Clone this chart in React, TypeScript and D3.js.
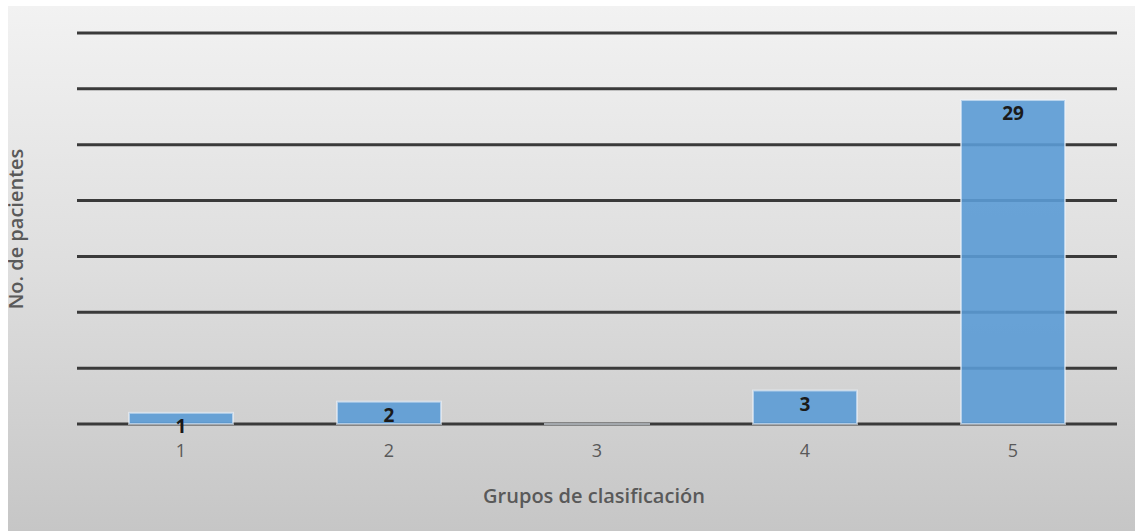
import React from "react";
import * as d3 from "d3";

const categories = ["1", "2", "3", "4", "5"];
const values = [1, 2, 0, 3, 29];
const yTicks = [0, 5, 10, 15, 20, 25, 30, 35];
const xTitle = "Grupos de clasificación";
const yTitle = "No. de pacientes";

export default function App() {
  const W = 1135;
  const H = 531;
  const x = d3.scaleBand<string>().domain(categories).range([77, 1117]).paddingInner(0.5).paddingOuter(0.25);
  const y = d3.scaleLinear().domain([0, 35]).range([424, 33]);
  const font = "'Open Sans', 'Liberation Sans', sans-serif";
  return (
    <svg width={W} height={H} style={{ position: "absolute", left: 0, top: 0, background: "#fff" }}>
      <defs>
        <linearGradient id="bg" x1="0" y1="0" x2="0" y2="1">
          <stop offset="0" stopColor="#f2f2f2" />
          <stop offset="0.5" stopColor="#dedede" />
          <stop offset="1" stopColor="#c6c6c6" />
        </linearGradient>
        <clipPath id="clip">
          <rect x={8} y={6} width={W - 8} height={H - 6} />
        </clipPath>
      </defs>
      <g clipPath="url(#clip)">
        <rect x={8} y={6} width={W - 8} height={H - 6} fill="url(#bg)" />
        {yTicks.map((t) => (
          <line key={t} x1={77} x2={1117} y1={y(t)} y2={y(t)} stroke="#3a3a3a" strokeWidth={3} />
        ))}
        {values.map((v, i) => (
          <rect
            key={i}
            x={x(categories[i])}
            y={y(v)}
            width={x.bandwidth()}
            height={Math.max(y(0) - y(v), 0.01)}
            fill="#5b9bd5"
            fillOpacity={0.9}
            stroke="rgba(235,242,250,0.6)"
            strokeWidth={2}
          />
        ))}
        {values.map((v, i) =>
          v > 0 ? (
            <text
              key={"l" + i}
              x={(x(categories[i]) as number) + x.bandwidth() / 2}
              y={y(v) + 15}
              textAnchor="middle"
              dominantBaseline="middle"
              fontFamily={font}
              fontWeight={700}
              fontSize={19}
              fill="#1a1a1a"
            >
              {v}
            </text>
          ) : null
        )}
        {categories.map((c) => (
          <text
            key={"t" + c}
            x={(x(c) as number) + x.bandwidth() / 2}
            y={452}
            textAnchor="middle"
            dominantBaseline="middle"
            fontFamily={font}
            fontSize={18}
            fill="#595959"
          >
            {c}
          </text>
        ))}
        <text x={594} y={503} textAnchor="middle" fontFamily={font} fontWeight={600} fontSize={20} fill="#595959">
          {xTitle}
        </text>
        <text
          transform="translate(23,229) rotate(-90)"
          textAnchor="middle"
          fontFamily={font}
          fontWeight={600}
          fontSize={20}
          fill="#595959"
        >
          {yTitle}
        </text>
      </g>
    </svg>
  );
}
